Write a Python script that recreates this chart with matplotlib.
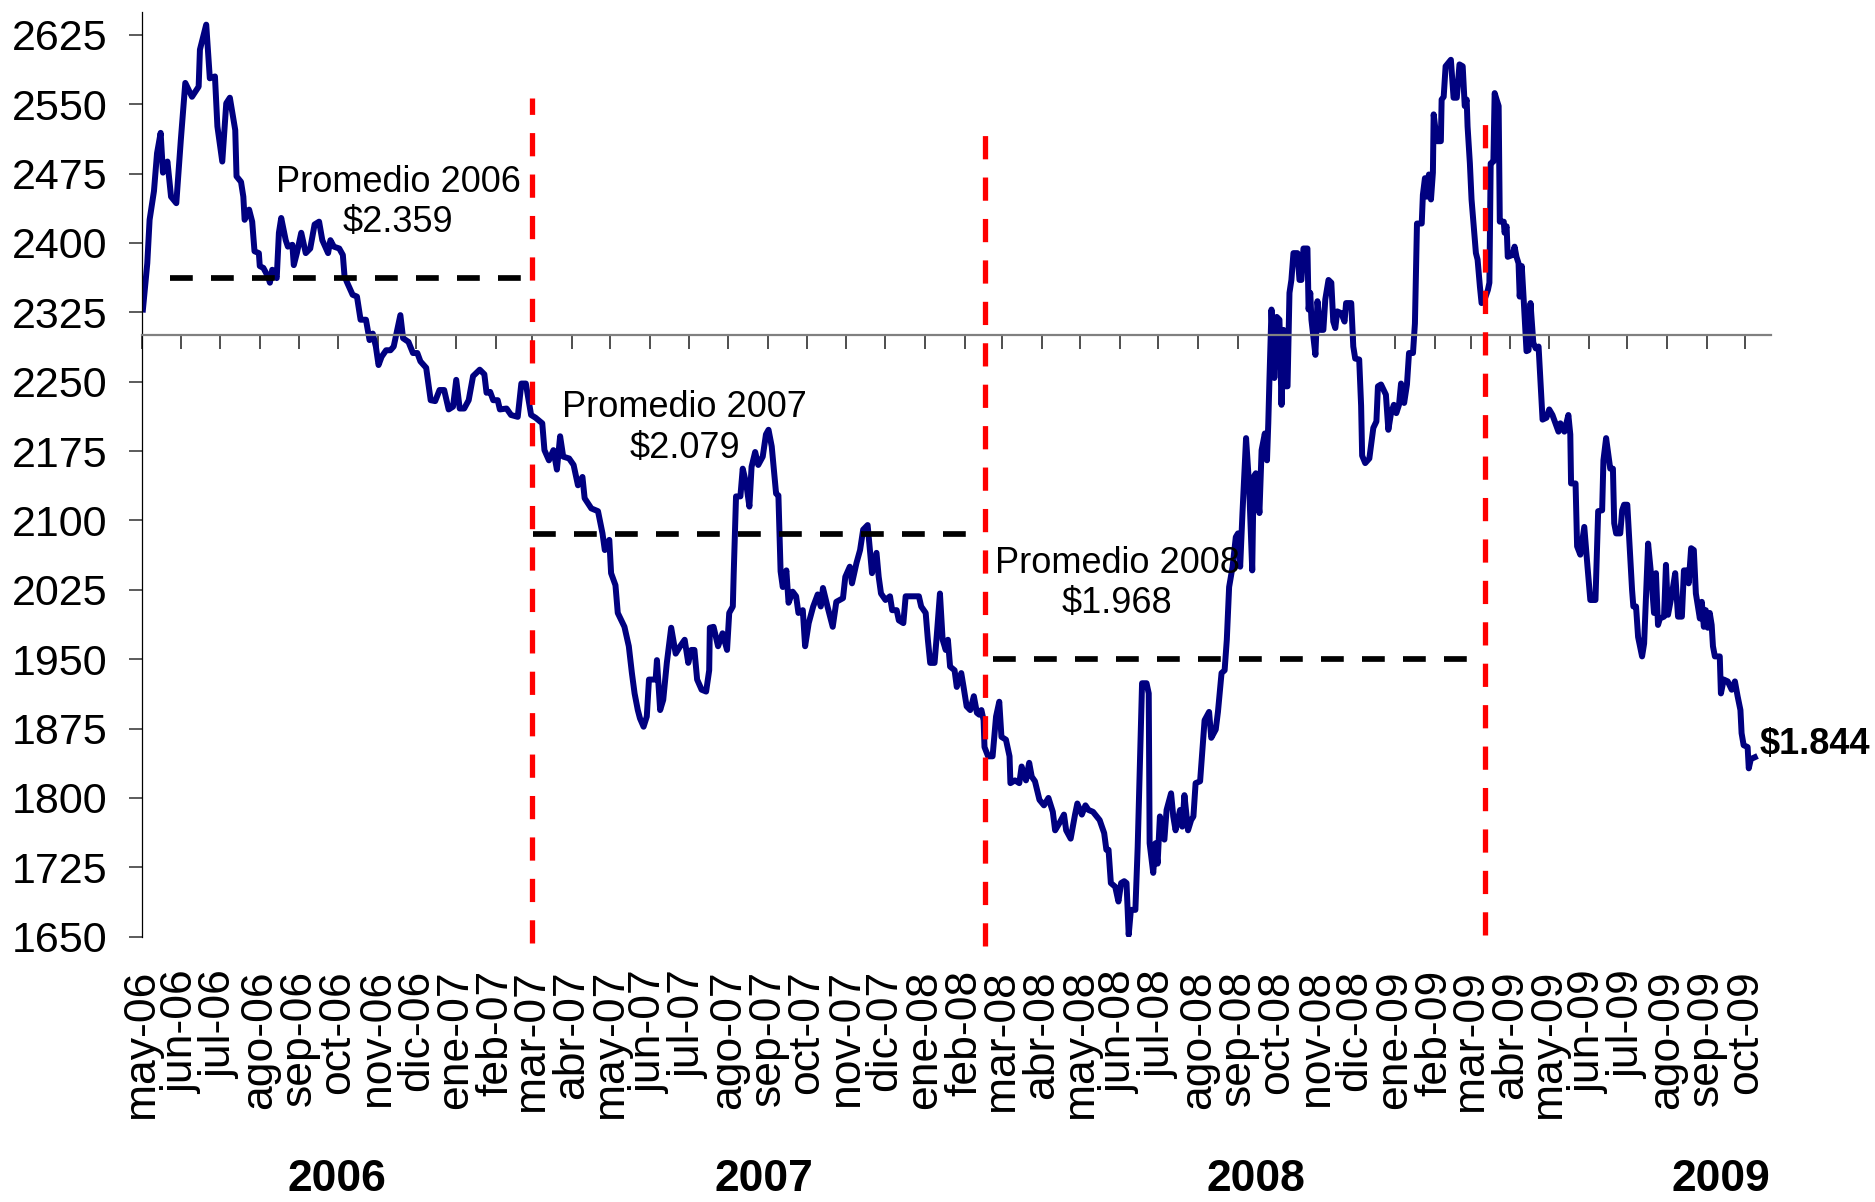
import numpy as np
import pandas as pd
import matplotlib
matplotlib.use("Agg")
import matplotlib.pyplot as plt
import matplotlib.dates as mdates
import matplotlib.transforms as mtransforms

plt.rcParams['font.family'] = ['Liberation Sans', 'DejaVu Sans']

# --- Datos: TRM diaria (días desde 2006-05-01) ---
inicio = pd.Timestamp('2006-05-01')

dias = [
    1.1, 4.5, 6.3, 9.7, 12.1, 14.9, 16.7, 20.2, 23, 27.1,
    30.6, 34.1, 39.3, 44.5, 45.5, 50.4, 53.2, 57.2, 59.1, 62.9,
    66, 68.8, 73, 74, 77.5, 79.3, 80.3, 83.8, 86.2, 88,
    91.4, 92.1, 94.9, 98.4, 100, 101.8, 105.3, 107, 108.8, 112.3,
    114, 117.5, 118.6, 121, 124.4, 127.9, 131.4, 134.8, 138.3, 140.8,
    145.3, 147.1, 149.8, 154, 156.8, 158.1, 160.2, 164.4, 167.8, 170.6,
    174.8, 177.6, 180.1, 182.5, 184.6, 187, 190.5, 193.9, 196.4, 198.4,
    201.6, 203.7, 207.9, 211.4, 214.8, 217.2, 221.7, 225.2, 228.7, 232.1,
    235.7, 239.2, 242.6, 245.1, 247.8, 251.3, 254.8, 258.2, 263.4, 267,
    268.7, 271.5, 273.9, 277.4, 279.1, 284.3, 287.8, 293, 295.8, 299.3,
    303.4, 306.9, 312.1, 313.8, 317.3, 320.8, 323.5, 326, 328.4, 333,
    336.5, 339.9, 343.4, 345.1, 350.3, 355.5, 359, 360.8, 364.3, 365.7,
    369.1, 370.9, 376.1, 379.5, 381.9, 384, 386.5, 388.2, 391, 393.5,
    395.2, 400.4, 401.4, 403.9, 406.3, 409.1, 412.5, 416, 419.5, 423,
    425.8, 428.2, 430.6, 432.7, 436.2, 439.7, 442.1, 442.6, 445.5, 449,
    452.5, 456, 457.7, 460.5, 461.2, 463, 466.4, 468.2, 470.9, 473.4,
    475.1, 477.9, 480.3, 483.8, 486.3, 488.3, 490.8, 494.2, 496, 497.7,
    499.4, 502.2, 503.9, 507.1, 509.8, 511.6, 515, 516.8, 519.6, 523.1,
    526.6, 529, 530.7, 534.2, 538.3, 541.1, 546.3, 548.1, 551.6, 553.3,
    556.8, 559.6, 562, 565.5, 568.9, 572.4, 574.1, 575.9, 579.4, 582.9,
    584.6, 588.1, 589.8, 593.3, 595.1, 600.2, 605.4, 607.2, 610.7, 612.4,
    614.2, 617.6, 619.3, 621.8, 623.9, 626.3, 628, 629.7, 633.2, 634.9,
    638.4, 640.2, 642.6, 645.4, 648.2, 650.6, 652.4, 654.1, 655.8, 656.5,
    659.3, 662.8, 665.5, 668, 669.7, 673.2, 676, 676.7, 680.2, 683.6,
    685.4, 688.8, 691.3, 693.3, 695.8, 699.3, 702.8, 706.3, 709.7, 711.5,
    714.9, 718.4, 720.1, 723.6, 727, 728.8, 732.3, 735.1, 737.5, 741,
    742.7, 746.2, 749.7, 751.4, 753.1, 754.9, 758.3, 760.8, 762.9, 765.3,
    767.1, 768.8, 770.5, 774, 775.8, 779.2, 782.7, 784.4, 785.1, 787.9,
    789.6, 791.3, 793.1, 796.6, 798.3, 801.8, 803.5, 805.3, 808.8, 810.5,
    812.2, 815, 817.4, 819.2, 820.9, 824.4, 826.2, 827.9, 831.4, 833.1,
    836.6, 838.3, 841.1, 843.5, 845.2, 847, 849.7, 852.2, 853.9, 855.6,
    857.4, 860.2, 862.6, 865, 866.1, 867.8, 870.6, 872.3, 874.8, 876.5,
    877.5, 878.4, 880, 882.2, 884.1, 886.2, 887.8, 889.4, 890.9, 892.5,
    894, 895.5, 897.1, 900.2, 901.8, 903.3, 904.9, 908, 908.9, 910.2,
    911.1, 914.2, 915.8, 918.2, 920.4, 921.9, 924.4, 926.6, 928.1, 929.7,
    931.2, 934.4, 936.9, 938.1, 942.1, 943.7, 945.2, 948.3, 949.8, 950.6,
    953, 956.2, 959.3, 961.7, 962.9, 965.3, 969.1, 971, 973.1, 975.3,
    977.2, 979.3, 980.9, 983.3, 985.5, 987.1, 990.2, 991.7, 993.3, 997,
    997.9, 999.5, 1001.1, 1002.6, 1004.2, 1005.7, 1006.3, 1008.8, 1011.9, 1012.5,
    1014.1, 1015.6, 1019.7, 1021.8, 1024.3, 1026.4, 1028.9, 1030.5, 1032, 1032.7,
    1034.5, 1035.8, 1039.2, 1040.5, 1042.3, 1043.6, 1046, 1048.5, 1049.7, 1050.7,
    1052.8, 1053.8, 1055.3, 1056.9, 1057.8, 1060.9, 1061.5, 1063.1, 1064, 1067.7,
    1069.3, 1070.8, 1072.4, 1073.3, 1074.9, 1076.4, 1078.6, 1080.2, 1081.7, 1083.9,
    1085.8, 1088, 1091.1, 1094.1, 1096.3, 1098.8, 1103.5, 1105, 1108.1, 1111.2,
    1112.7, 1113.3, 1116.8, 1118, 1120.5, 1123.6, 1126.1, 1128.3, 1132.3, 1134.4,
    1137.5, 1138.5, 1140.6, 1143.8, 1145.9, 1146.9, 1148.4, 1151.6, 1153.1, 1154.6,
    1157.1, 1159.3, 1160.8, 1161.8, 1163.9, 1165.5, 1168.6, 1170.2, 1173.3, 1175.8,
    1177.9, 1179.4, 1181, 1182.5, 1185.7, 1187.2, 1188.8, 1191.9, 1194.4, 1196.6,
    1199.6, 1201.2, 1203.7, 1204.9, 1206.8, 1208.9, 1210.5, 1213.6, 1215.1, 1216.7,
    1218.2, 1219.8, 1221.3, 1222.8, 1223.8, 1225.3, 1229.1, 1230, 1232.2, 1235.3,
    1238.4, 1240.9, 1243, 1245.2, 1246.1, 1247.7, 1250.8, 1251.7, 1253.3, 1256.4,
]

tasa = [
    2328, 2378, 2425, 2456, 2497, 2519, 2476, 2488, 2450, 2443,
    2511, 2573, 2558, 2569, 2609, 2636, 2578, 2580, 2526, 2488,
    2551, 2557, 2522, 2472, 2466, 2450, 2425, 2436, 2423, 2391,
    2389, 2375, 2373, 2364, 2357, 2371, 2362, 2411, 2427, 2403,
    2396, 2398, 2376, 2389, 2411, 2389, 2394, 2420, 2423, 2403,
    2389, 2403, 2396, 2394, 2387, 2364, 2357, 2344, 2342, 2317,
    2317, 2295, 2302, 2288, 2268, 2277, 2284, 2284, 2288, 2301,
    2322, 2297, 2293, 2281, 2281, 2272, 2265, 2230, 2229, 2241,
    2241, 2220, 2223, 2252, 2221, 2221, 2230, 2256, 2263, 2258,
    2238, 2239, 2230, 2230, 2220, 2221, 2214, 2212, 2248, 2248,
    2214, 2211, 2205, 2176, 2165, 2176, 2155, 2191, 2169, 2167,
    2160, 2138, 2147, 2124, 2113, 2110, 2086, 2068, 2079, 2043,
    2030, 2000, 1985, 1964, 1935, 1913, 1895, 1886, 1877, 1888,
    1928, 1928, 1949, 1895, 1906, 1946, 1984, 1956, 1964, 1971,
    1946, 1960, 1960, 1928, 1917, 1915, 1938, 1984, 1985, 1964,
    1978, 1960, 2000, 2007, 2043, 2126, 2126, 2156, 2140, 2115,
    2158, 2174, 2160, 2169, 2193, 2198, 2180, 2129, 2127, 2045,
    2028, 2046, 2011, 2023, 2018, 2000, 2003, 1964, 1989, 2007,
    2020, 2007, 2027, 2007, 1985, 2012, 2016, 2039, 2050, 2032,
    2054, 2068, 2090, 2095, 2043, 2065, 2039, 2021, 2014, 2018,
    2003, 2003, 1992, 1989, 2018, 2018, 2018, 2007, 2000, 1971,
    1946, 1946, 1975, 2021, 1971, 1960, 1971, 1942, 1938, 1920,
    1935, 1920, 1899, 1895, 1910, 1892, 1890, 1895, 1884, 1855,
    1845, 1845, 1888, 1904, 1866, 1863, 1845, 1816, 1819, 1816,
    1834, 1819, 1838, 1823, 1818, 1798, 1792, 1800, 1785, 1765,
    1773, 1782, 1765, 1756, 1782, 1794, 1782, 1792, 1787, 1785,
    1782, 1776, 1762, 1744, 1744, 1708, 1704, 1688, 1708, 1710,
    1708, 1652, 1679, 1679, 1747, 1924, 1924, 1913, 1751, 1719,
    1751, 1729, 1780, 1755, 1787, 1805, 1780, 1765, 1787, 1769,
    1803, 1765, 1776, 1780, 1816, 1818, 1852, 1884, 1893, 1865,
    1874, 1893, 1935, 1938, 1971, 2028, 2050, 2082, 2086, 2050,
    2108, 2189, 2137, 2046, 2147, 2151, 2108, 2176, 2194, 2165,
    2205, 2252, 2328, 2254, 2320, 2317, 2225, 2306, 2245, 2245,
    2346, 2360, 2389, 2389, 2360, 2360, 2394, 2394, 2328, 2346,
    2317, 2279, 2337, 2306, 2306, 2339, 2360, 2357, 2315, 2308,
    2326, 2324, 2315, 2335, 2335, 2288, 2275, 2274, 2224, 2170,
    2162, 2167, 2200, 2207, 2245, 2247, 2236, 2198, 2216, 2225,
    2216, 2225, 2248, 2227, 2247, 2281, 2281, 2313, 2421, 2421,
    2452, 2470, 2450, 2474, 2447, 2476, 2539, 2510, 2510, 2555,
    2558, 2591, 2598, 2557, 2557, 2593, 2591, 2548, 2555, 2526,
    2486, 2447, 2389, 2382, 2353, 2335, 2339, 2349, 2357, 2486,
    2488, 2562, 2555, 2548, 2423, 2423, 2411, 2418, 2385, 2387,
    2396, 2385, 2378, 2342, 2375, 2339, 2283, 2284, 2335, 2292,
    2286, 2288, 2209, 2211, 2220, 2214, 2196, 2205, 2196, 2214,
    2193, 2140, 2140, 2072, 2063, 2093, 2050, 2014, 2014, 2110,
    2111, 2165, 2189, 2156, 2156, 2097, 2086, 2086, 2111, 2117,
    2117, 2061, 2025, 2007, 2007, 1974, 1953, 1967, 2075, 2039,
    2000, 2043, 1987, 1994, 1996, 2052, 1998, 2021, 2043, 1996,
    1996, 2046, 2046, 2032, 2070, 2068, 2021, 1994, 2012, 1985,
    2003, 1984, 2000, 1987, 1964, 1953, 1953, 1913, 1928, 1926,
    1917, 1926, 1910, 1895, 1870, 1857, 1855, 1832, 1842, 1844,
]

# promedios anuales
prom_texto = ['Promedio 2006\n$2.359', 'Promedio 2007\n$2.079', 'Promedio 2008\n$1.968']
prom_nivel = [2362, 2085, 1950]
prom_desde = ['2006-05-23', '2007-03-02', '2008-02-23']
prom_hasta = ['2007-02-27', '2008-02-05', '2009-03-08']
texto_fecha = ['2006-11-17', '2007-06-28', '2008-05-30']
texto_nivel = [2444, 2200, 2032]

# cortes de periodo (líneas rojas)
cortes = ['2007-03-01', '2008-02-17', '2009-03-12']
corte_bajo = [1643, 1640, 1652]
corte_alto = [2557, 2526, 2540]

anios = ['2006', '2007', '2008', '2009']
anio_fecha = ['2006-09-30', '2007-08-29', '2008-09-15', '2009-09-12']

ultimo_texto = '$1.844'
ultimo_fecha = '2009-10-12'
ultimo_nivel = 1858

abrev = ['ene', 'feb', 'mar', 'abr', 'may', 'jun', 'jul', 'ago', 'sep', 'oct', 'nov', 'dic']
meses = pd.date_range('2006-05-01', '2009-10-01', freq='MS')
etiquetas = [f"{abrev[m.month - 1]}-{m.year % 100:02d}" for m in meses]

fechas = inicio + pd.to_timedelta(dias, unit='D')

# --- Figura ---
fig = plt.figure(figsize=(18.75, 12.02), dpi=100)
ax = fig.add_axes([0.07547, 0.22072, 0.86906, 0.76955])

ax.plot(fechas, tasa, color='#000080', lw=4.3, zorder=2)

for d0, d1, y in zip(prom_desde, prom_hasta, prom_nivel):
    ax.plot([pd.Timestamp(d0), pd.Timestamp(d1)], [y, y], color='black',
            lw=4.1, dashes=(4.0, 3.2), zorder=3)

for c, lo, hi in zip(cortes, corte_bajo, corte_alto):
    ax.plot([pd.Timestamp(c), pd.Timestamp(c)], [lo, hi], color='#ff0000',
            lw=3.8, dashes=(4.4, 3.45), zorder=4, clip_on=False)

for t, f, y in zip(prom_texto, texto_fecha, texto_nivel):
    ax.text(mdates.date2num(pd.Timestamp(f)), y, t, ha='center', va='center',
            fontsize=26, linespacing=1.2, zorder=5)

ax.text(mdates.date2num(pd.Timestamp(ultimo_fecha)), ultimo_nivel, ultimo_texto,
        ha='left', va='center', fontsize=26, fontweight='bold')

ax.set_xlim(inicio, pd.Timestamp('2009-10-21'))
ax.set_ylim(1650, 2650)
ax.set_yticks(np.arange(1650, 2626, 75))
ax.tick_params(axis='y', direction='out', length=9.4, width=1.2, color='#404040',
               labelsize=31, pad=15)

ax.set_xticks(meses)
ax.tick_params(axis='x', direction='out', length=10, width=1.2, color='#303030',
               labelbottom=False)

for s in ['top', 'right']:
    ax.spines[s].set_visible(False)
ax.spines['bottom'].set_position(('data', 2300))
ax.spines['bottom'].set_color('#808080')
ax.spines['bottom'].set_linewidth(1.6)
ax.spines['left'].set_color('black')
ax.spines['left'].set_linewidth(0.9)

# etiquetas de meses en la parte inferior
sec = ax.secondary_xaxis(0)
sec.set_xticks(mdates.date2num(meses))
sec.set_xticklabels(etiquetas, rotation=90)
sec.tick_params(length=0, pad=24, labelsize=32)
sec.spines['bottom'].set_visible(False)

trans = mtransforms.blended_transform_factory(ax.transData, ax.transAxes)
for a, f in zip(anios, anio_fecha):
    ax.text(mdates.date2num(pd.Timestamp(f)), -0.263, a, transform=trans,
            ha='center', va='center', fontsize=32, fontweight='bold')

fig.savefig('out.png', dpi=100)
